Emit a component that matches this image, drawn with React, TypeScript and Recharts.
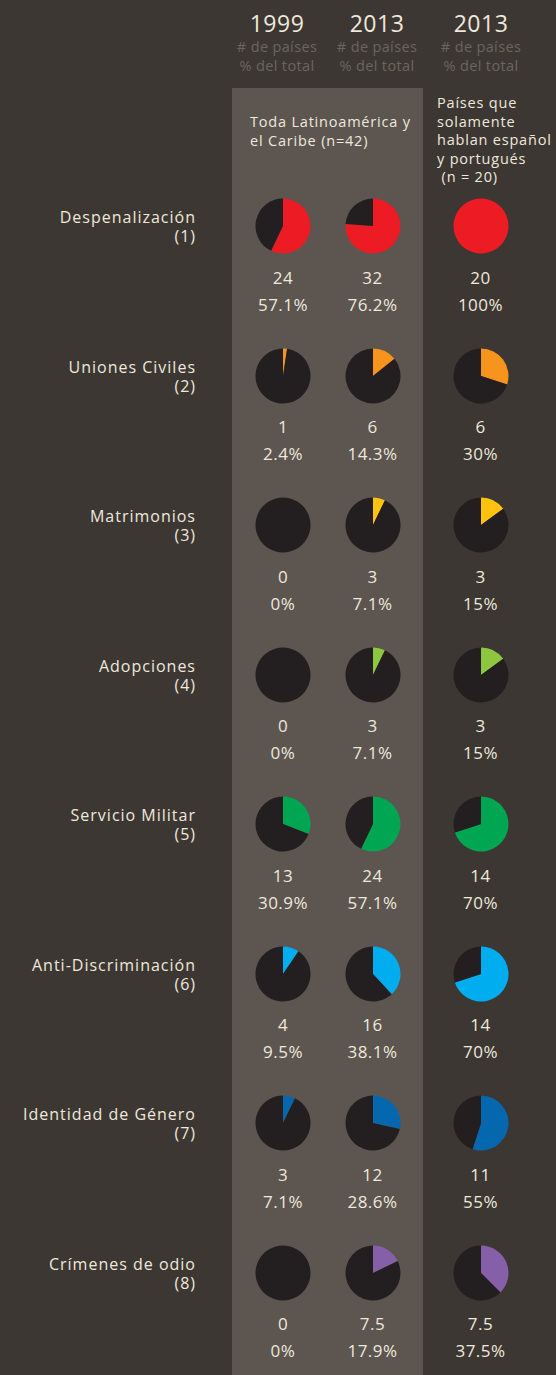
import React from 'react';
import { PieChart, Pie, Cell } from 'recharts';

// ---------- data ----------
const categories = [
  'Despenalización',
  'Uniones Civiles',
  'Matrimonios',
  'Adopciones',
  'Servicio Militar',
  'Anti-Discriminación',
  'Identidad de Género',
  'Crímenes de odio',
];
const categoryNumbers = ['(1)', '(2)', '(3)', '(4)', '(5)', '(6)', '(7)', '(8)'];
const categoryColors = ['#ed1c24', '#f7941d', '#ffc20e', '#8dc63f', '#00a651', '#00aeef', '#0568ae', '#8560a8'];

const columnYears = ['1999', '2013', '2013'];
const columnTotals = [42, 42, 20];

const counts1999 = [24, 1, 0, 0, 13, 4, 3, 0];
const counts2013 = [32, 6, 3, 3, 24, 16, 12, 7.5];
const countsSpPt2013 = [20, 6, 3, 3, 14, 14, 11, 7.5];

const pct1999 = ['57.1%', '2.4%', '0%', '0%', '30.9%', '9.5%', '7.1%', '0%'];
const pct2013 = ['76.2%', '14.3%', '7.1%', '7.1%', '57.1%', '38.1%', '28.6%', '17.9%'];
const pctSpPt2013 = ['100%', '30%', '15%', '15%', '70%', '70%', '55%', '37.5%'];

const columnCounts = [counts1999, counts2013, countsSpPt2013];
const columnPcts = [pct1999, pct2013, pctSpPt2013];

const subHeaderLines = ['# de países', '% del total'];
const bandNoteLines = ['Toda Latinoamérica y', 'el Caribe (n=42)'];
const sideNoteLines = ['Países que', 'solamente', 'hablan español', 'y portugués', '\u00a0(n = 20)'];

// ---------- layout / style ----------
const W = 556;
const H = 1375;
const BG = '#3c3732';
const BAND = '#5c5550';
const TEXT = '#efe8dc';
const SUB = '#6c655f';
const DARK = '#231f20';
const FONT = '"Open Sans", Lato, sans-serif';

const pieCols = [283, 372.5, 480.5];
const headerCols = [277, 377, 481];
const rowTop = 226;
const rowStep = 149.5;
const PIE_BOX = 64;
const PIE_R = 27.5;

type TxtProps = {
  x: number;
  y: number;
  size: number;
  color?: string;
  align?: 'center' | 'left' | 'right';
  children: React.ReactNode;
  spacing?: number;
};

const Txt = ({ x, y, size, color = TEXT, align = 'center', children, spacing = 0 }: TxtProps) => {
  const h = Math.round(size * 1.12);
  const w = 300;
  const left = align === 'center' ? x - w / 2 : align === 'right' ? x - w : x;
  return (
    <div
      style={{
        position: 'absolute',
        left,
        top: y - h / 2,
        width: w,
        height: h,
        lineHeight: `${h}px`,
        fontSize: size,
        color,
        textAlign: align,
        whiteSpace: 'nowrap',
        fontFamily: FONT,
        letterSpacing: spacing,
        marginRight: align === 'right' ? -spacing : 0,
      }}
    >
      {children}
    </div>
  );
};

// two-line right-aligned row label as one text block
const RowLabel = ({ x, y, lines }: { x: number; y: number; lines: string[] }) => {
  const lh = 19;
  const w = 300;
  return (
    <div
      style={{
        position: 'absolute',
        left: x - w,
        top: y - lh + 1,
        width: w,
        lineHeight: `${lh}px`,
        fontSize: 16,
        color: TEXT,
        textAlign: 'right',
        whiteSpace: 'pre',
        fontFamily: FONT,
        letterSpacing: 1,
        marginRight: -1,
      }}
    >
      {lines.join('\n')}
    </div>
  );
};

const SmallPie = ({ value, total, color }: { value: number; total: number; color: string }) => {
  const data = [
    { name: 'sí', value },
    { name: 'no', value: total - value },
  ];
  return (
    <PieChart width={PIE_BOX} height={PIE_BOX} margin={{ top: 0, right: 0, bottom: 0, left: 0 }}>
      <Pie
        data={data}
        dataKey="value"
        cx="50%"
        cy="50%"
        innerRadius={0}
        outerRadius={PIE_R}
        startAngle={90}
        endAngle={-270}
        stroke="none"
        isAnimationActive={false}
      >
        <Cell fill={color} />
        <Cell fill={DARK} />
      </Pie>
    </PieChart>
  );
};

export default function App() {
  return (
    <div
      style={{
        position: 'absolute',
        left: 0,
        top: 0,
        width: W,
        height: H,
        background: BG,
        overflow: 'hidden',
        fontFamily: FONT,
      }}
    >
      {/* band */}
      <div style={{ position: 'absolute', left: 232, top: 88, width: 191, height: H - 88, background: BAND }} />

      {/* headers */}
      {columnYears.map((yr, c) => (
        <React.Fragment key={'h' + c}>
          <Txt x={headerCols[c]} y={23} size={23} spacing={0.5}>
            {yr}
          </Txt>
          {subHeaderLines.map((l, i) => (
            <Txt key={i} x={headerCols[c]} y={47 + i * 19} size={14.5} color={SUB} spacing={0.35}>
              {l}
            </Txt>
          ))}
        </React.Fragment>
      ))}

      {bandNoteLines.map((l, i) => (
        <Txt key={'b' + i} x={250} y={122 + i * 18.5} size={14.5} align="left" spacing={0.8}>
          {l}
        </Txt>
      ))}
      {sideNoteLines.map((l, i) => (
        <Txt key={'s' + i} x={437} y={103 + i * 18.6} size={14.5} align="left" spacing={0.8}>
          {l}
        </Txt>
      ))}

      {categories.map((cat, r) => {
        const cy = rowTop + r * rowStep;
        return (
          <React.Fragment key={cat}>
            <RowLabel x={196} y={cy} lines={[cat, categoryNumbers[r]]} />
            {columnCounts.map((arr, c) => (
              <React.Fragment key={c}>
                <div
                  style={{
                    position: 'absolute',
                    left: pieCols[c] - PIE_BOX / 2,
                    top: cy - PIE_BOX / 2,
                    width: PIE_BOX,
                    height: PIE_BOX,
                  }}
                >
                  <SmallPie value={arr[r]} total={columnTotals[c]} color={categoryColors[r]} />
                </div>
                <Txt x={pieCols[c]} y={cy + 51} size={17} spacing={0.5}>
                  {String(arr[r])}
                </Txt>
                <Txt x={pieCols[c]} y={cy + 78} size={17} spacing={0.5}>
                  {columnPcts[c][r]}
                </Txt>
              </React.Fragment>
            ))}
          </React.Fragment>
        );
      })}
    </div>
  );
}
